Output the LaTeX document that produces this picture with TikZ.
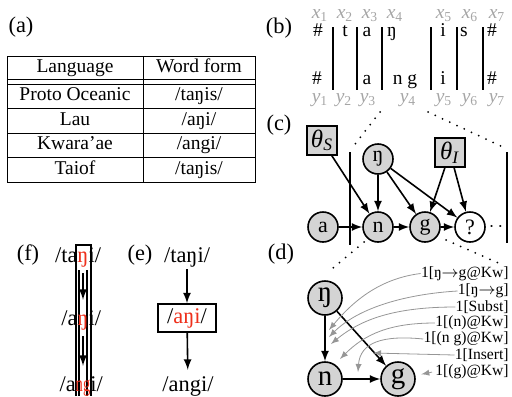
\documentclass[tikz,border=0pt]{standalone}
\usepackage{fontspec}
\usepackage{graphicx}
\setmainfont{Liberation Serif}
\usetikzlibrary{positioning}
\definecolor{idxgray}{RGB}{165,165,165}
\definecolor{notegray}{RGB}{150,150,150}
\definecolor{varfill}{RGB}{212,212,212}
\definecolor{chgred}{RGB}{238,48,28}
\newcommand{\ix}[2]{\textit{#1}\textsubscript{#2}}
\newcommand{\chg}[1]{\textcolor{chgred}{#1}}
\tikzset{
  panel/.style={font=\fontsize{11.2}{13}\selectfont},
  cell/.style={font=\fontsize{9.75}{11}\selectfont,text height=6.8pt,text depth=2pt},
  seg/.style={font=\fontsize{9.75}{11}\selectfont,anchor=base,inner sep=0pt},
  idx/.style={font=\fontsize{9.75}{11}\selectfont,text=idxgray,anchor=base,inner sep=0pt},
  var/.style={circle,draw,line width=0.8pt,fill=varfill,minimum size=15pt,inner sep=0pt,font=\fontsize{11}{13}\selectfont},
  bigvar/.style={var,minimum size=17pt,font=\fontsize{14.5}{16}\selectfont},
  prm/.style={draw,line width=0.8pt,fill=varfill,minimum width=15pt,minimum height=14.5pt,inner sep=0pt,font=\fontsize{12.5}{14}\selectfont},
  dep/.style={-latex,line width=0.8pt},
  zoomline/.style={line width=1pt,dash pattern=on 0pt off 4pt,line cap=round},
  feat/.style={anchor=east,inner sep=0pt,font=\fontsize{7.8}{9}\selectfont},
  note/.style={-latex,notegray,line width=0.4pt},
  form/.style={font=\fontsize{11.2}{13}\selectfont},
}
\begin{document}
\begin{tikzpicture}[x=0.5pt,y=-0.5pt]
\useasboundingbox (0,0) rectangle (512,396);
% (a) tableau des formes
\node[panel] (pa) at (21,27) {(a)};
\draw[line width=0.4pt] (7,56) rectangle (255,182);
\foreach \y in {79,84,108,133,157} \draw[line width=0.4pt] (7,\y) -- (255,\y);
\draw[line width=0.4pt] (143,56) -- (143,182);
\node[cell] (lang) at (75,67.5) {Language};
\node[cell] (wform) at (199,67.5) {Word form};
\foreach \n/\y/\l/\w in {1/96/Proto Oceanic/taŋis,2/120.5/Lau/aŋi,3/145/Kwara'ae/angi,4/169.5/Taiof/taŋis}{
  \node[cell] (l\n) at (75,\y) {\l};
  \node[cell] (w\n) at (199,\y) {/\w/};
}
% (b) alignement
\node[panel] (pb) at (279,28) {(b)};
\foreach \i/\x in {1/320,2/345,3/370,4/395,5/444,6/470,7/497}
  \node[idx] (x\i) at (\x,18.5) {\ix{x}{\i}};
\foreach \i/\x in {1/320,2/344,3/368,4/408,5/444,6/470,7/497}
  \node[idx] (y\i) at (\x,102) {\ix{y}{\i}};
\foreach \x in {333,357,382,431,457,483}
  \draw[line width=0.9pt] (\x,27) -- (\x,90);
\foreach \s/\x [count=\k] in {\#/318,t/345,a/367,ŋ/392,i/443,s/464,\#/492}
  \node[seg] (u\k) at (\x,36) {\s};
\foreach \s/\x [count=\k] in {\#/317,a/367,n g/405,i/443,\#/492}
  \node[seg] (v\k) at (\x,84) {\s};
\draw[zoomline] (380,112) -- (352,148);
\draw[zoomline] (428,112) -- (505,148);
% (c) modele
\node[panel] (pc) at (279,125) {(c)};
\node[prm] (thS) at (322,140.5) {\textit{θ}\textsubscript{\textit{S}}};
\node[prm] (thI) at (450,152.5) {\textit{θ}\textsubscript{\textit{I}}};
\node[var] (c0) at (378,159) {ŋ};
\node[var] (ca) at (323,227) {a};
\node[var] (cn) at (378,227) {n};
\node[var] (cg) at (425,227) {g};
\node[var,fill=white] (cq) at (470,227) {?};
\node[inner sep=0pt] (cdots) at (496,227) {$\cdot\,\cdot$};
\draw[line width=0.8pt] (350,152) -- (350,245);
\draw[line width=0.8pt] (507,152) -- (507,243);
\foreach \a/\b in {thS/cn,c0/cn,c0/cg,c0/cq,thI/cg,thI/cq,ca/cn,cn/cg,cg/cq}
  \draw[dep] (\a) -- (\b);
% (d) traits
\node[panel] (pd) at (281,254) {(d)};
\draw[zoomline] (364,242) -- (333,268);
\draw[zoomline] (446,240) -- (503,265);
\node[bigvar] (d0) at (325,298) {ŋ};
\node[bigvar] (dn) at (325,379) {n};
\node[bigvar] (dg) at (398,379) {g};
\foreach \a/\b in {d0/dn,d0/dg,dn/dg} \draw[dep] (\a) -- (\b);
\node[feat] (k1) at (509,273.5) {1[ŋ$\rightarrow$g@Kw]};
\node[feat] (k2) at (509,291) {1[ŋ$\rightarrow$g]};
\node[feat] (k3) at (509,307) {1[Subst]};
\node[feat] (k4) at (509,323) {1[(n)@Kw]};
\node[feat] (k5) at (509,339) {1[(n g)@Kw]};
\node[feat] (k6) at (509,355) {1[Insert]};
\node[feat] (k7) at (509,371.5) {1[(g)@Kw]};
\coordinate (t1) at (329,330);
\coordinate (t2) at (329,337);
\coordinate (t3) at (331,344);
\coordinate (t4) at (340,359);
\coordinate (t5) at (358,372);
\coordinate (t6) at (373,353);
\draw[note] (k1.west) .. controls +(-40,5) and +(25,-30) .. (t1);
\draw[note] (k2.west) .. controls +(-50,3) and +(30,-30) .. (t2);
\draw[note] (k3.west) .. controls +(-60,0) and +(30,-25) .. (t3);
\draw[note] (k4.west) .. controls +(-45,0) and +(25,-25) .. (t4);
\draw[note] (k5.west) .. controls +(-40,-4) and +(2,-30) .. (t5);
\draw[note] (k6.west) -- (t6);
\draw[note,shorten <=1.5pt,shorten >=3pt] (k7.west) -- (dg);
% (f) chaine
\node[panel] (pf) at (28,255) {(f)};
\draw[line width=0.6pt] (76,396) -- (76,245) -- (91,245) -- (91,396);
\draw[line width=0.6pt] (79,270) -- (79,396) (87,270) -- (87,396);
\node[form,anchor=base,inner sep=0pt] (fa) at (83,262) {\llap{/ta}\chg{ŋ}\rlap{i/}};
\node[form,anchor=base,inner sep=0pt] (fb) at (83,325) {\llap{/a}\chg{ŋ}\rlap{i/}};
\node[form,anchor=base,inner sep=0pt] (fc) at (83,391) {\llap{/a}\chg{\scalebox{0.65}[1]{ng}}\rlap{i/}};
\draw[dep,shorten <=3pt,shorten >=5pt] (fa) -- (fb);
\draw[dep,shorten <=3pt,shorten >=5pt] (fb) -- (fc);
% (e) ancetre
\node[panel] (pe) at (140,255) {(e)};
\node[form,anchor=base,inner sep=1pt] (ea) at (187,262) {/taŋi/};
\node[form,draw,line width=0.8pt,minimum width=29pt,minimum height=14pt,inner sep=1pt] (eb) at (187,318) {/\chg{aŋi}/};
\node[form,anchor=base,inner sep=1pt] (ec) at (188,391) {/angi/};
\draw[dep] (ea) -- (eb);
\draw[dep,shorten >=2pt] (eb) -- (ec);
\end{tikzpicture}
\end{document}
